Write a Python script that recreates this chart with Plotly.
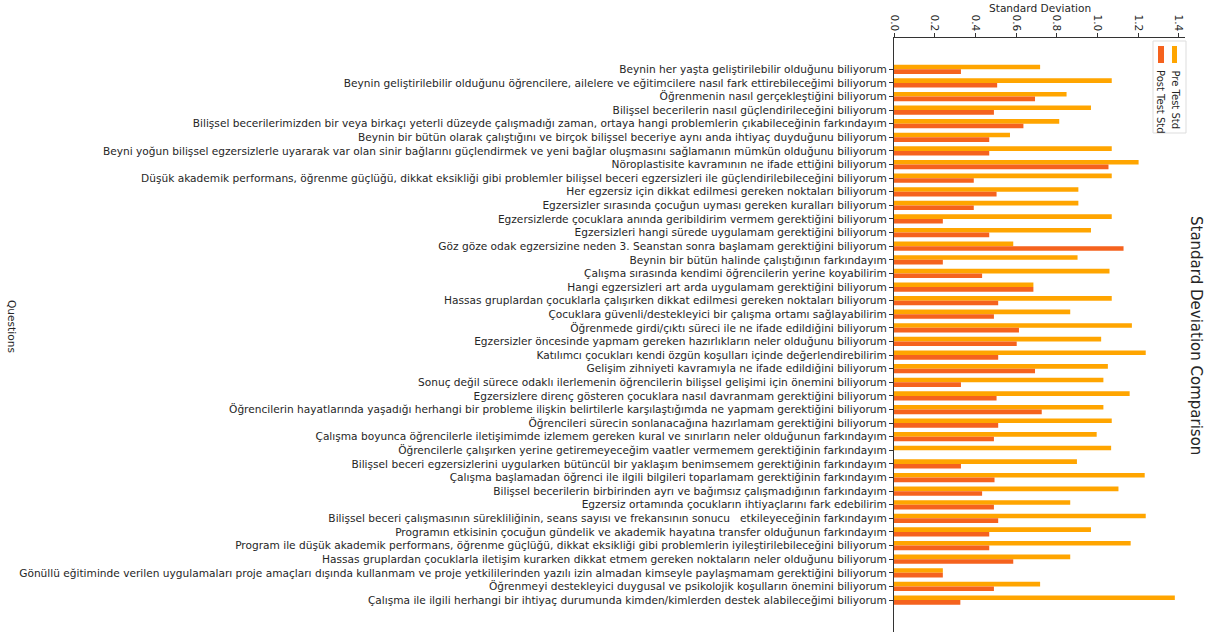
import plotly.graph_objects as go

questions = [
    "Beynin her yaşta geliştirilebilir olduğunu biliyorum",
    "Beynin geliştirilebilir olduğunu öğrencilere, ailelere ve eğitimcilere nasıl fark ettirebileceğimi biliyorum",
    "Öğrenmenin nasıl gerçekleştiğini biliyorum",
    "Bilişsel becerilerin nasıl güçlendirileceğini biliyorum",
    "Bilişsel becerilerimizden bir veya birkaçı yeterli düzeyde çalışmadığı zaman, ortaya hangi problemlerin çıkabileceğinin farkındayım",
    "Beynin bir bütün olarak çalıştığını ve birçok bilişsel beceriye aynı anda ihtiyaç duyduğunu biliyorum",
    "Beyni yoğun bilişsel egzersizlerle uyararak var olan sinir bağlarını güçlendirmek ve yeni bağlar oluşmasını sağlamanın mümkün olduğunu biliyorum",
    "Nöroplastisite kavramının ne ifade ettiğini biliyorum",
    "Düşük akademik performans, öğrenme güçlüğü, dikkat eksikliği gibi problemler bilişsel beceri egzersizleri ile güçlendirilebileceğini biliyorum",
    "Her egzersiz için dikkat edilmesi gereken noktaları biliyorum",
    "Egzersizler sırasında çocuğun uyması gereken kuralları biliyorum",
    "Egzersizlerde çocuklara anında geribildirim vermem gerektiğini biliyorum",
    "Egzersizleri hangi sürede uygulamam gerektiğini biliyorum",
    "Göz göze odak egzersizine neden 3. Seanstan sonra başlamam gerektiğini biliyorum",
    "Beynin bir bütün halinde çalıştığının farkındayım",
    "Çalışma sırasında kendimi öğrencilerin yerine koyabilirim",
    "Hangi egzersizleri art arda uygulamam gerektiğini biliyorum",
    "Hassas gruplardan çocuklarla çalışırken dikkat edilmesi gereken noktaları biliyorum",
    "Çocuklara güvenli/destekleyici bir çalışma ortamı sağlayabilirim",
    "Öğrenmede girdi/çıktı süreci ile ne ifade edildiğini biliyorum",
    "Egzersizler öncesinde yapmam gereken hazırlıkların neler olduğunu biliyorum",
    "Katılımcı çocukları kendi özgün koşulları içinde değerlendirebilirim",
    "Gelişim zihniyeti kavramıyla ne ifade edildiğini biliyorum",
    "Sonuç değil sürece odaklı ilerlemenin öğrencilerin bilişsel gelişimi için önemini biliyorum",
    "Egzersizlere direnç gösteren çocuklara nasıl davranmam gerektiğini biliyorum",
    "Öğrencilerin hayatlarında yaşadığı herhangi bir probleme ilişkin belirtilerle karşılaştığımda ne yapmam gerektiğini biliyorum",
    "Öğrencileri sürecin sonlanacağına hazırlamam gerektiğini biliyorum",
    "Çalışma boyunca öğrencilerle iletişimimde izlemem gereken kural ve sınırların neler olduğunun farkındayım",
    "Öğrencilerle çalışırken yerine getiremeyeceğim vaatler vermemem gerektiğinin farkındayım",
    "Bilişsel beceri egzersizlerini uygularken bütüncül bir yaklaşım benimsemem gerektiğinin farkındayım",
    "Çalışma başlamadan öğrenci ile ilgili bilgileri toparlamam gerektiğinin farkındayım",
    "Bilişsel becerilerin birbirinden ayrı ve bağımsız çalışmadığının farkındayım",
    "Egzersiz ortamında çocukların ihtiyaçlarını fark edebilirim",
    "Bilişsel beceri çalışmasının sürekliliğinin, seans sayısı ve frekansının sonucu   etkileyeceğinin farkındayım",
    "Programın etkisinin çocuğun gündelik ve akademik hayatına transfer olduğunun farkındayım",
    "Program ile düşük akademik performans, öğrenme güçlüğü, dikkat eksikliği gibi problemlerin iyileştirilebileceğini biliyorum",
    "Hassas gruplardan çocuklarla iletişim kurarken dikkat etmem gereken noktaların neler olduğunu biliyorum",
    "Gönüllü eğitiminde verilen uygulamaları proje amaçları dışında kullanmam ve proje yetkililerinden yazılı izin almadan kimseyle paylaşmamam gerektiğini biliyorum",
    "Öğrenmeyi destekleyici duygusal ve psikolojik koşulların önemini biliyorum",
    "Çalışma ile ilgili herhangi bir ihtiyaç durumunda kimden/kimlerden destek alabileceğimi biliyorum",
]

pre_std = [0.718, 1.070, 0.848, 0.968, 0.812, 0.570, 1.070, 1.202, 1.070, 0.906,
           0.906, 1.070, 0.968, 0.586, 0.902, 1.059, 0.685, 1.070, 0.866, 1.169,
           1.018, 1.237, 1.051, 1.029, 1.158, 1.029, 1.070, 0.996, 1.067, 0.899,
           1.232, 1.103, 0.866, 1.237, 0.968, 1.163, 0.866, 0.240, 0.718, 1.380]

post_std = [0.329, 0.507, 0.693, 0.491, 0.636, 0.468, 0.468, 1.054, 0.392, 0.504,
            0.392, 0.240, 0.468, 1.128, 0.240, 0.433, 0.685, 0.512, 0.491, 0.614,
            0.603, 0.512, 0.693, 0.329, 0.504, 0.726, 0.512, 0.491, 0.0, 0.329,
            0.494, 0.433, 0.491, 0.512, 0.468, 0.468, 0.586, 0.240, 0.491, 0.326]

x_ticks = [0.0, 0.2, 0.4, 0.6, 0.8, 1.0, 1.2, 1.4]

PRE_COLOR = "#FFA500"
POST_COLOR = "#F5621E"
FONT = "DejaVu Sans"
LABEL_SIZE = 10.6

fig = go.Figure()
fig.add_trace(go.Bar(y=questions, x=pre_std, orientation="h", name="Pre Test Std",
                     marker=dict(color=PRE_COLOR, line=dict(width=0)), showlegend=False))
fig.add_trace(go.Bar(y=questions, x=post_std, orientation="h", name="Post Test Std",
                     marker=dict(color=POST_COLOR, line=dict(width=0)), showlegend=False))

n = len(questions)
W, H = 1213, 637
L, T = 894, 38
PW, PH = 291, 594
R, B = W - L - PW, H - T - PH
fig.update_layout(
    width=W, height=H,
    margin=dict(l=L, r=R, t=T, b=B, autoexpand=False),
    paper_bgcolor="white", plot_bgcolor="white",
    barmode="group", bargap=0.32, bargroupgap=0,
    font=dict(family=FONT, size=LABEL_SIZE, color="#262626"),
    xaxis=dict(
        side="top", range=[0, 1.43], tickvals=x_ticks,
        ticktext=[f"{v:.1f}" for v in x_ticks], tickangle=90,
        ticks="outside", ticklen=4, tickcolor="#333", showgrid=False, zeroline=False,
        showline=True, linecolor="#333", linewidth=1,
        tickfont=dict(size=LABEL_SIZE), automargin=False, ticklabelstandoff=-2,
    ),
    yaxis=dict(
        type="category", range=[n - 1 + 2.35, -2.3],
        ticks="outside", ticklen=4, tickcolor="#333", showgrid=False,
        showline=True, linecolor="#333", linewidth=1,
        tickfont=dict(size=LABEL_SIZE), automargin=False,
    ),
)

def px(xs):
    return (xs - L) / PW
def py(ys):
    return 1 - (ys - T) / PH

# Axis titles and chart title (rotated as in the reference)
fig.add_annotation(text="Standard Deviation", xref="paper", yref="paper",
                   x=px(1040), y=py(8), showarrow=False,
                   font=dict(size=LABEL_SIZE), xanchor="center", yanchor="middle")
fig.add_annotation(text="Questions", xref="paper", yref="paper",
                   x=px(12), y=py(326), showarrow=False, textangle=90,
                   font=dict(size=LABEL_SIZE), xanchor="center", yanchor="middle")
fig.add_annotation(text="Standard Deviation Comparison", xref="paper", yref="paper",
                   x=px(1196), y=py(335), showarrow=False, textangle=90,
                   font=dict(size=15), xanchor="center", yanchor="middle")

# Rotated legend (drawn manually)
fig.add_shape(type="rect", xref="paper", yref="paper",
              x0=px(1153), x1=px(1186), y0=py(133), y1=py(41),
              line=dict(color="#dddddd", width=1), fillcolor="rgba(255,255,255,0.8)")
fig.add_shape(type="rect", xref="paper", yref="paper",
              x0=px(1172), x1=px(1177), y0=py(63), y1=py(46),
              line=dict(width=0), fillcolor=PRE_COLOR)
fig.add_shape(type="rect", xref="paper", yref="paper",
              x0=px(1158), x1=px(1164), y0=py(63), y1=py(46),
              line=dict(width=0), fillcolor=POST_COLOR)
fig.add_annotation(text="Pre Test Std", xref="paper", yref="paper",
                   x=px(1175), y=py(68), showarrow=False, textangle=90,
                   font=dict(size=10), xanchor="center", yanchor="top")
fig.add_annotation(text="Post Test Std", xref="paper", yref="paper",
                   x=px(1161), y=py(68), showarrow=False, textangle=90,
                   font=dict(size=10), xanchor="center", yanchor="top")

fig.write_html(
    "out.html",
    config={"displayModeBar": False},
    post_script="document.body.style.margin='0';document.body.style.overflow='hidden';",
)
